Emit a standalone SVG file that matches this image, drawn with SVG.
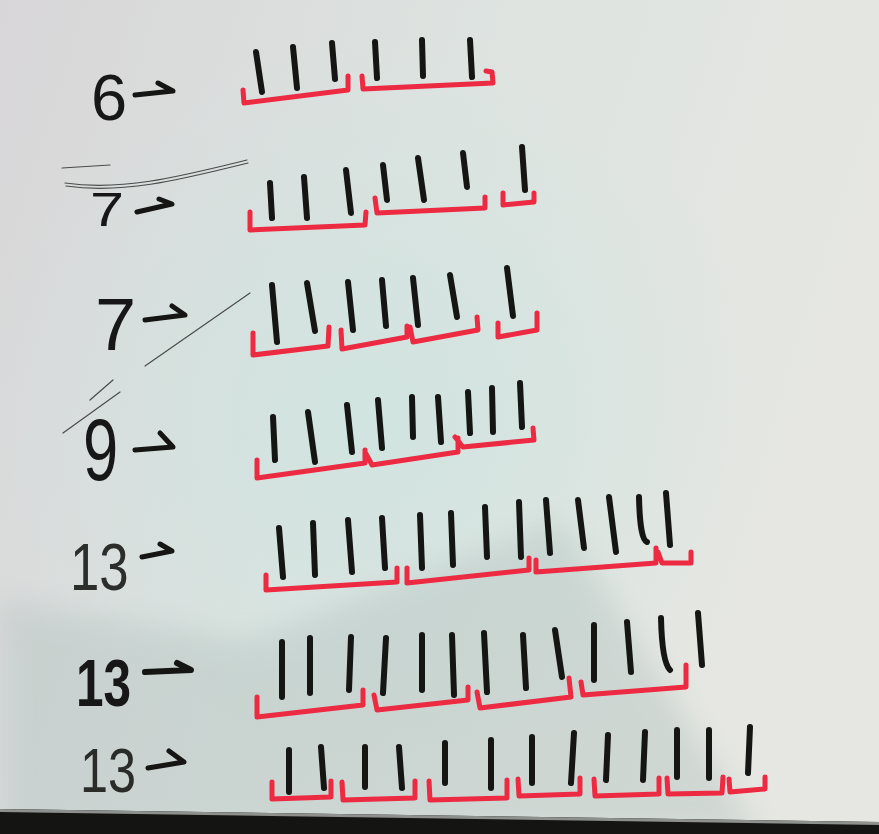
<svg xmlns="http://www.w3.org/2000/svg" width="879" height="834" viewBox="0 0 879 834">
<defs>
<linearGradient id="bg" x1="0" y1="0" x2="1" y2="0.3">
<stop offset="0" stop-color="#d8d6d8"/>
<stop offset="0.5" stop-color="#dde3e0"/>
<stop offset="1" stop-color="#e6e7e2"/>
</linearGradient>
<radialGradient id="tint" cx="0.42" cy="0.5" r="0.45">
<stop offset="0" stop-color="#cfe4e0" stop-opacity="0.9"/>
<stop offset="1" stop-color="#cfe4e0" stop-opacity="0"/>
</radialGradient>
<filter id="blur" x="-20%" y="-20%" width="140%" height="140%"><feGaussianBlur stdDeviation="14"/></filter>
<style>
.t{stroke:#151614;stroke-width:6;stroke-linecap:round;stroke-linejoin:round;fill:none}
.b{stroke:#ec2a42;stroke-width:5;stroke-linecap:round;stroke-linejoin:round;fill:none}
.a{stroke:#151614;stroke-width:5;stroke-linecap:round;stroke-linejoin:round;fill:none}
.g{stroke:#4a4c4a;stroke-width:1.2;fill:none;stroke-linecap:round}
.n{font-family:"Liberation Sans","DejaVu Sans",sans-serif;fill:#161716}
</style>
</defs>
<rect x="0" y="0" width="879" height="834" fill="url(#bg)"/>
<rect x="0" y="0" width="879" height="834" fill="url(#tint)"/>
<polygon points="0,600 250,640 560,520 760,834 0,834" fill="#b5c4c1" opacity="0.45" filter="url(#blur)"/>
<polygon points="0,809 879,822 879,834 0,834" fill="#141413"/>
<polygon points="0,809 879,822 879,825 0,812" fill="#8d908c"/>

<g id="row1">
<text class="n" x="91" y="120" font-size="65">6</text>
<path class="a" d="M135,95 L173,91 L158,83"/>
<path class="t" d="M256,52 L262,92 M293,47 L297,88 M332,43 L335,79 M375,42 L377,78 M422,40 L423,76 M470,40 L472,77"/>
<path class="b" d="M243,90 L244,103 L348,90 L348,76 M362,76 L363,89 L493,83 L492,72 L486,71"/>
</g>

<g id="row2">
<path class="g" d="M65,183 C120,191 175,178 247,160 M66,186 C121,194 176,181 248,163 M62,168 L110,165"/>
<text class="n" transform="translate(90,226) scale(1.25,1)" font-size="49">7</text>
<path class="a" d="M137,212 L172,204 L159,199"/>
<path class="t" d="M270,183 L272,218 M304,177 L307,218 M346,170 L351,213 M383,165 L387,200 M418,158 L424,200 M463,153 L467,187 M522,147 L525,190"/>
<path class="b" d="M250,212 L250,230 L365,225 L366,212 M375,198 L377,213 L485,208 L485,197 M503,193 L503,205 L534,202 L534,193"/>
</g>

<g id="row3">
<path class="g" d="M250,293 L145,366"/>
<text class="n" x="95" y="350" font-size="74">7</text>
<path class="a" d="M145,320 L185,315 L172,306"/>
<path class="t" d="M272,285 L277,342 M307,283 L315,331 M348,282 L353,330 M382,280 L386,326 M413,278 L418,325 M450,275 L457,317 M507,268 L513,316"/>
<path class="b" d="M253,333 L253,355 L328,346 L329,327 M341,330 L342,349 L407,337 L407,326 M410,327 L413,342 L478,330 L477,317 M498,323 L498,337 L537,330 L537,313"/>
</g>

<g id="row4">
<path class="g" d="M63,433 L120,392 M90,400 L113,380"/>
<text class="n" transform="translate(83,480) scale(0.72,1)" font-size="88">9</text>
<path class="a" d="M135,450 L173,447 L160,433"/>
<path class="t" d="M273,417 L275,460 M308,412 L315,462 M347,405 L352,452 M378,400 L382,448 M412,397 L413,437 M438,397 L441,442 M468,392 L470,433 M492,388 L493,432 M520,383 L522,427"/>
<path class="b" d="M257,460 L257,478 L365,463 L365,450 M365,452 L372,465 L458,452 L458,438 M455,437 L463,447 L534,440 L533,428"/>
</g>

<g id="row5">
<text class="n" transform="translate(70,590) scale(0.8,1)" font-size="66" style="fill:#2c2e2c">13</text>
<path class="a" d="M142,557 L172,551 L160,544"/>
<path class="t" d="M279,528 L283,577 M313,523 L315,575 M348,520 L352,572 M382,518 L385,568 M420,515 L422,568 M451,513 L453,565 M485,507 L487,557 M519,502 L521,557 M546,500 L550,553 M578,500 L584,548 M609,497 L616,552 M639,497 Q640,540 647,542 M666,493 L670,545"/>
<path class="b" d="M266,575 L266,590 L397,582 L397,568 M407,568 L407,583 L529,570 L529,558 M536,560 L536,572 L656,563 L656,548 M658,552 L662,563 L691,563 L691,552"/>
</g>

<g id="row6">
<text class="n" transform="translate(76,706) scale(0.75,1)" font-size="66" font-weight="bold">13</text>
<path class="a" style="stroke-width:6" d="M145,672 L191,670 L177,663"/>
<path class="t" d="M282,642 L282,697 M310,638 L310,693 M351,637 L349,690 M386,638 L383,693 M422,635 L422,690 M452,635 L454,695 M484,633 L487,692 M523,635 L526,688 M555,630 L562,677 M594,625 L594,680 M627,622 L631,672 M661,618 Q662,662 670,670 M698,613 L702,665"/>
<path class="b" d="M257,697 L257,717 L363,705 L363,690 M374,695 L377,710 L468,700 L468,687 M477,692 L480,708 L571,697 L569,678 M581,682 L583,695 L686,687 L686,665"/>
</g>

<g id="row7">
<text class="n" transform="translate(80,792) scale(0.8,1)" font-size="63" style="fill:#2a2c2a">13</text>
<path class="a" d="M148,768 L184,762 L169,751"/>
<path class="t" d="M289,750 L289,792 M321,747 L324,788 M365,747 L365,787 M399,747 L402,788 M445,743 L445,783 M491,740 L491,788 M532,737 L532,783 M574,733 L571,783 M608,735 L606,780 M645,732 L643,780 M677,730 L677,777 M709,730 L709,778 M750,727 L748,773"/>
<path class="b" d="M272,782 L272,799 L331,797 L331,781 M342,782 L343,800 L415,798 L415,781 M429,781 L430,800 L507,798 L507,780 M518,779 L519,796 L580,794 L580,778 M594,779 L595,796 L659,794 L659,778 M667,778 L668,794 L722,793 L723,777 M729,779 L730,792 L765,789 L765,777"/>
</g>
</svg>
